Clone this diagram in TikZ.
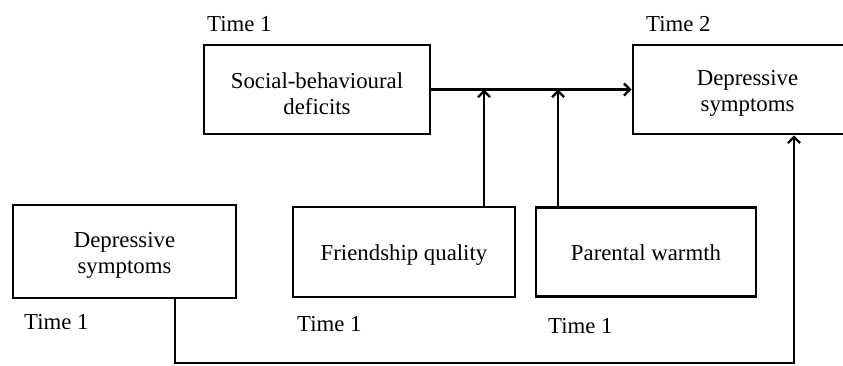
\documentclass[tikz,border=0pt]{standalone}
\usepackage{fontspec}
\setmainfont{Liberation Serif}
\usetikzlibrary{arrows.meta}
\begin{document}
\begin{tikzpicture}[x=1pt,y=-1pt,
  every node/.style={font=\fontsize{22.8}{26}\selectfont},
  box/.style={draw,rectangle,line width=2.8pt,inner sep=0pt},
  boxtext/.style={inner sep=0pt,align=center},
  timelbl/.style={anchor=base west,inner sep=0pt},
  arr/.style={line width=2.3pt,-{Straight Barb[length=6pt,width=12pt,line width=2.3pt]}}]
\clip (0,0) rectangle (843,366);
\fill[white] (0,0) rectangle (843,366);
% boxes
\node[box,minimum width=226pt,minimum height=89pt] (soc) at (317,89.5) {};
\node[box,minimum width=229pt,minimum height=89pt] (t2) at (747.5,89.5) {};
\node[box,minimum width=222pt,minimum height=90pt] (fq) at (404,252) {};
\node[box,minimum width=220pt,minimum height=89pt] (pw) at (646,252) {};
\node[box,minimum width=223pt,minimum height=93pt] (d1) at (124.5,251.5) {};
% box texts
\node[boxtext,yshift=-4pt] (soct) at (soc) {Social-behavioural\\deficits};
\node[boxtext,yshift=-4pt] (t2t) at (t2) {Depressive\\symptoms};
\node[boxtext,yshift=-3pt] (fqt) at (fq) {Friendship quality};
\node[boxtext,yshift=-1pt] (pwt) at (pw) {Parental warmth};
\node[boxtext,yshift=-4pt] (d1t) at (d1) {Depressive\\symptoms};
% time labels
\node[timelbl] (l1) at (207,32) {Time 1};
\node[timelbl] (l2) at (646,32) {Time 2};
\node[timelbl] (l3) at (24,329) {Time 1};
\node[timelbl] (l4) at (297,331) {Time 1};
\node[timelbl] (l5) at (548,333) {Time 1};
% helper coordinates
\coordinate (m1) at (484,89.5);
\coordinate (m2) at (558,89.5);
\coordinate (b1) at (175,363);
\coordinate (b2) at (794,363);
% connectors
\draw[arr] (soc.east) -- (t2.west);
\draw[arr] (m1 |- fq.north) -- (m1);
\draw[arr] (m2 |- pw.north) -- (m2);
\draw[arr] (b1 |- d1.south) -- (b1) -- (b2) -- (b2 |- t2.south);
\end{tikzpicture}
\end{document}
